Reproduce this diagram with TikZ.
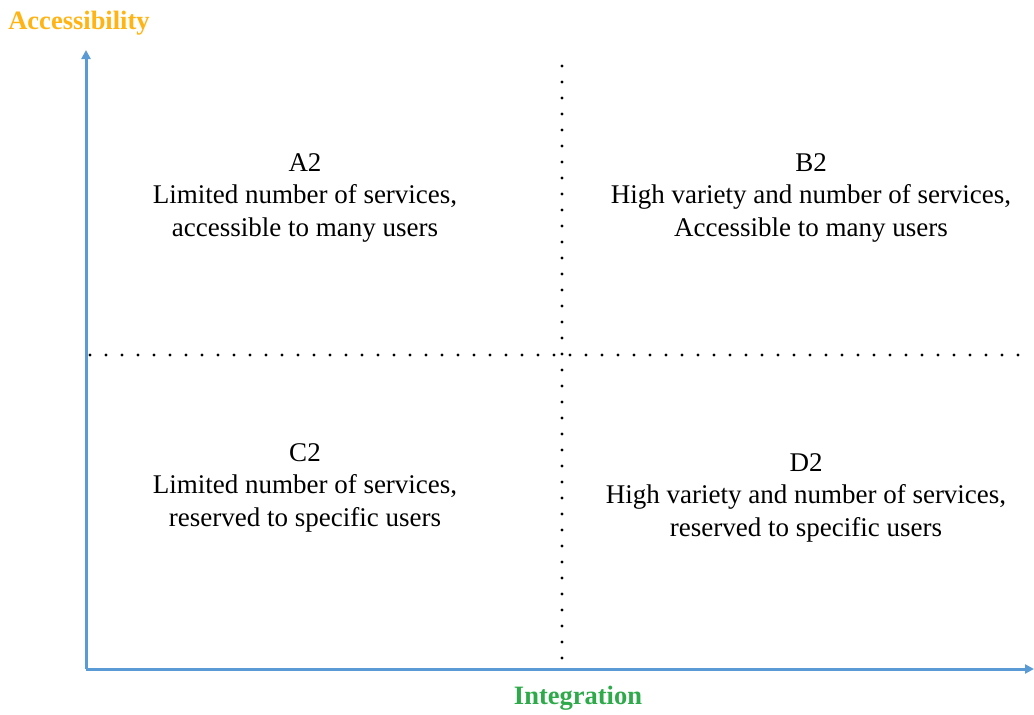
\documentclass[tikz,border=0pt]{standalone}
\usepackage{fontspec}
\setmainfont{Liberation Serif}
\usetikzlibrary{arrows.meta}
\definecolor{axisblue}{HTML}{5B9BD5}
\definecolor{accorange}{HTML}{FFB414}
\definecolor{intgreen}{HTML}{2EAA4A}
\begin{document}
\begin{tikzpicture}[x=1pt,y=-1pt,
  axis/.style={draw=axisblue,line width=3pt,-{Triangle[length=9pt,width=9pt]}},
  divider/.style={line width=3.4pt,line cap=round,dash pattern=on 0pt off 16pt},
  quad/.style={align=center,font=\fontsize{27}{32.5}\selectfont,anchor=north},
  axlabel/.style={font=\fontsize{26.5}{30}\selectfont\bfseries}]
\useasboundingbox (0,0) rectangle (1034,715);
\coordinate (origin) at (86,669);
\coordinate (ytop) at (86,50);
\coordinate (xend) at (1034,669);
\coordinate (vtop) at (562,66);
\coordinate (vbot) at (562,666);
\coordinate (hleft) at (90,355);
\coordinate (hright) at (1030,355);
\draw[divider] (vtop) -- (vbot);
\draw[divider] (hleft) -- (hright);
\draw[axis] (origin) -- (ytop);
\draw[axis] (origin) -- (xend);
\node[axlabel,text=accorange] (acc) at (79,23) {Accessibility};
\node[axlabel,text=intgreen] (int) at (578,698) {Integration};
\node[quad] (a2) at (305,150) {A2\\Limited number of services,\\accessible to many users};
\node[quad] (b2) at (811,150) {B2\\High variety and number of services,\\Accessible to many users};
\node[quad] (c2) at (305,440) {C2\\Limited number of services,\\reserved to specific users};
\node[quad] (d2) at (806,450) {D2\\High variety and number of services,\\reserved to specific users};
\end{tikzpicture}
\end{document}
